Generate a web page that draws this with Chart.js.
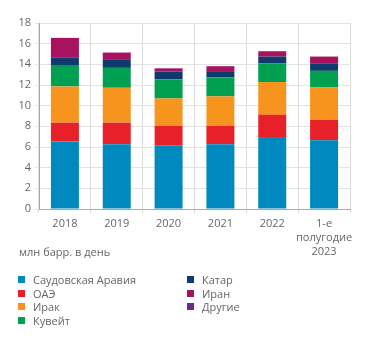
<!DOCTYPE html>
<html>
<head>
<meta charset="utf-8">
<script src="https://cdn.jsdelivr.net/npm/chart.js@4"></script>
<style>
    body { margin: 0; background: #fff; font-family: 'Open Sans', sans-serif; color: #666; }
    #wrap { position: relative; width: 371px; height: 342px; }
    #chart { position: absolute; left: 0; top: 0; }
    #unit { position: absolute; left: 19px; top: 244px; font-size: 11px; }
    #legend { position: absolute; left: 18px; top: 273px; width: 340px; font-size: 11px; }
    .item { position: absolute; height: 14px; line-height: 14px; white-space: nowrap; }
    .item span { display: inline-block; width: 7px; height: 7px; margin-right: 8px; vertical-align: 1px; }
</style>
</head>
<body>
<div id="wrap">
    <canvas id="chart" width="371" height="262"></canvas>
    <div id="unit">млн барр. в день</div>
    <div id="legend"></div>
</div>
<script>
const years = ['2018', '2019', '2020', '2021', '2022', ['1-е', 'полугодие', '2023']];

const saudi  = [6.52, 6.27, 6.14, 6.27, 6.88, 6.65];
const uae    = [1.84, 2.09, 1.90, 1.77, 2.25, 2.00];
const iraq   = [3.50, 3.37, 2.66, 2.86, 3.15, 3.11];
const kuwait = [2.00, 1.93, 1.84, 1.83, 1.80, 1.61];
const qatar  = [0.77, 0.77, 0.76, 0.61, 0.67, 0.68];
const iran   = [1.93, 0.71, 0.30, 0.48, 0.52, 0.70];
const other  = [0.00, 0.00, 0.03, 0.00, 0.00, 0.00];

const seriesNames  = ['Саудовская Аравия', 'ОАЭ', 'Ирак', 'Кувейт', 'Катар', 'Иран', 'Другие'];
const seriesColors = ['#0089bf', '#e8202a', '#f7941e', '#00a050', '#0f3a6e', '#a8125f', '#6a2d8f'];
const seriesData   = [saudi, uae, iraq, kuwait, qatar, iran, other];

let ctx = document.getElementById('chart').getContext('2d');

new Chart(ctx, {
    type: 'bar',
    data: {
        labels: years,
        datasets: seriesNames.map((name, i) => ({
            label: name,
            data: seriesData[i],
            backgroundColor: seriesColors[i],
            borderWidth: 0,
            categoryPercentage: 0.9,
            barPercentage: 0.6
        }))
    },
    options: {
        responsive: false,
        animation: false,
        layout: {
            padding: { top: 23, right: 21, left: 0, bottom: 0 }
        },
        scales: {
            x: {
                stacked: true,
                grid: { color: '#dddddd', tickLength: 4, offset: true },
                border: { color: '#aaa' },
                ticks: {
                    color: '#666',
                    font: { family: 'Open Sans', size: 11, lineHeight: 1.25 },
                    padding: 4,
                    maxRotation: 0,
                    autoSkip: false
                },
                afterFit: function (scale) { scale.height = 53; }
            },
            y: {
                stacked: true,
                min: 0,
                max: 18,
                grid: { color: '#e3e3e3', tickLength: 4 },
                border: { color: '#aaa' },
                ticks: {
                    stepSize: 2,
                    color: '#666',
                    font: { family: 'Open Sans', size: 11 },
                    padding: 4
                },
                afterFit: function (scale) { scale.width = 39; }
            }
        },
        plugins: {
            legend: { display: false },
            tooltip: { enabled: false }
        }
    }
});

// legend in two columns, filled column by column
let legend = document.getElementById('legend');
seriesNames.forEach((name, i) => {
    let col = i < 4 ? 0 : 1;
    let row = i < 4 ? i : i - 4;
    let el = document.createElement('div');
    el.className = 'item';
    el.style.left = (col * 169) + 'px';
    el.style.top = (row * 13.5) + 'px';
    el.innerHTML = '<span style="background:' + seriesColors[i] + '"></span>' + name;
    legend.appendChild(el);
});
</script>
</body>
</html>
